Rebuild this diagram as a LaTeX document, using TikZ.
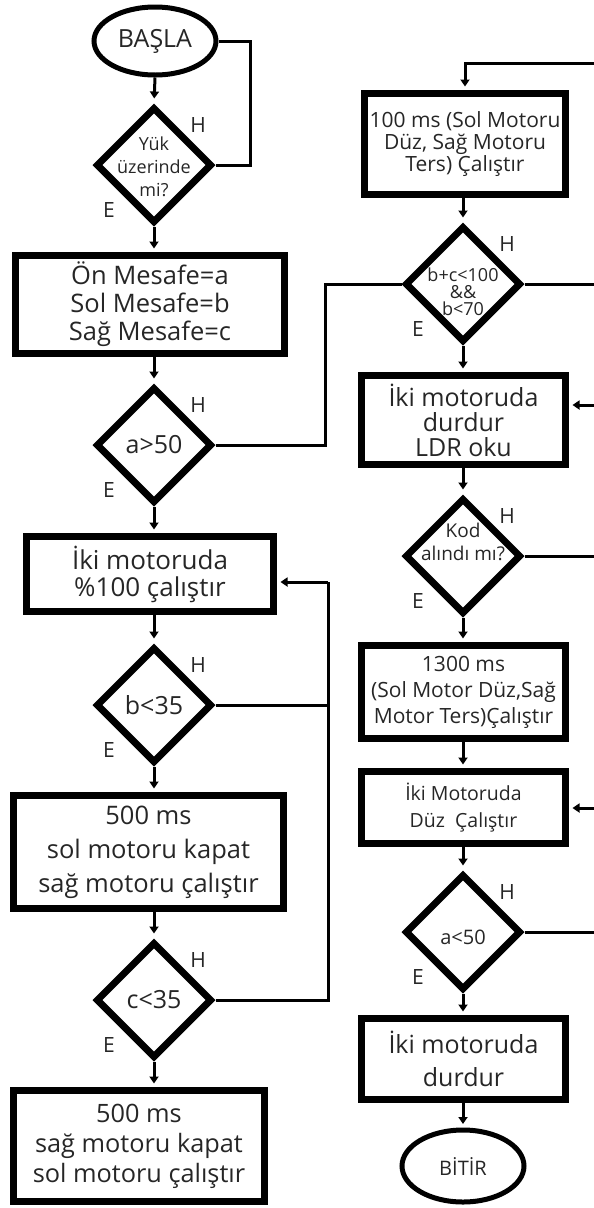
\documentclass[tikz,border=0pt]{standalone}
\usepackage{fontspec}
\setmainfont{Open Sans}
\usetikzlibrary{shapes.geometric,arrows.meta}
\begin{document}
\begin{tikzpicture}[x=1pt,y=-1pt,
  box/.style={draw, line width=7pt, rectangle, inner sep=0pt, align=center, text=black!85},
  dia/.style={draw, line width=7pt, diamond, aspect=1, inner sep=0pt, minimum width=116pt, minimum height=116pt},
  term/.style={draw, line width=5pt, ellipse, inner sep=0pt, align=center, text=black!85},
  txt/.style={inner sep=0pt, align=center, text=black!85},
  lbl/.style={inner sep=0pt, font=\fontsize{21}{21}\selectfont, text=black!85},
  conn/.style={line width=3pt},
  arr/.style={line width=3pt, -{Triangle[length=7pt,width=9pt]}, shorten >=3.5pt},
  arrd/.style={line width=3pt, -{Triangle[length=7pt,width=9pt]}, shorten >=5pt},
]
\useasboundingbox (0,0) rectangle (594,1208);

% ---------- left column ----------
\node[term, minimum width=122pt, minimum height=68pt, font=\fontsize{25}{28}\selectfont] (start) at (155,41) {BAŞLA};

\node[dia] (d1) at (154,165) {};
\node[txt, font=\fontsize{18}{23}\selectfont] (t1) at (154,167) {Yük\\üzerinde\\mi?};

\node[box, minimum width=269pt, minimum height=98pt, font=\fontsize{25.5}{28}\selectfont] (b1) at (150,304.5) {Ön Mesafe=a\\Sol Mesafe=b\\Sağ Mesafe=c};

\node[dia] (d2) at (154,445) {};
\node[txt, font=\fontsize{25}{28}\selectfont] (t2) at (154,445) {a>50};

\node[box, minimum width=247pt, minimum height=75pt, font=\fontsize{26}{27}\selectfont] (b2) at (150,574) {İki motoruda\\\%100 çalıştır};

\node[dia] (d3) at (154,705) {};
\node[txt, font=\fontsize{25}{28}\selectfont] (t3) at (154,705) {b<35};

\node[box, minimum width=270pt, minimum height=113pt, font=\fontsize{25.5}{34}\selectfont] (b3) at (148.5,852) {500 ms\\sol motoru kapat\\sağ motoru çalıştır};

\node[dia] (d4) at (154,1000) {};
\node[txt, font=\fontsize{25}{28}\selectfont] (t4) at (154,1000) {c<35};

\node[box, minimum width=251pt, minimum height=111pt, font=\fontsize{25.3}{30}\selectfont] (b4) at (139,1146) {500 ms\\sağ motoru kapat\\sol motoru çalıştır};

% ---------- right column ----------
\node[box, minimum width=201pt, minimum height=101pt, font=\fontsize{21}{22}\selectfont] (b5) at (465,144) {100 ms (Sol Motoru\\Düz, Sağ Motoru\\Ters) Çalıştır};

\node[dia] (d5) at (463,284) {};
\node[txt, font=\fontsize{18}{17}\selectfont] (t5) at (463,292) {b+c<100\\\&\&\\b<70};

\node[box, minimum width=204pt, minimum height=89pt, font=\fontsize{25}{25}\selectfont] (b6) at (463.5,420) {İki motoruda\\durdur\\LDR oku};

\node[dia] (d6) at (463,556) {};
\node[txt, font=\fontsize{19}{23}\selectfont] (t6) at (463,542) {Kod\\alındı mı?};

\node[box, minimum width=204pt, minimum height=93pt, font=\fontsize{21}{26}\selectfont] (b7) at (463.5,692) {1300 ms\\(Sol Motor Düz,Sağ\\Motor Ters)Çalıştır};

\node[box, minimum width=204pt, minimum height=72pt, font=\fontsize{19.5}{27}\selectfont] (b8) at (463.5,807.5) {İki Motoruda\\Düz\ \ Çalıştır};

\node[dia] (d7) at (463,932) {};
\node[txt, font=\fontsize{20}{22}\selectfont] (t7) at (463,937) {a<50};

\node[box, minimum width=204pt, minimum height=81pt, font=\fontsize{25}{33}\selectfont] (b9) at (463.5,1059) {İki motoruda\\durdur};

\node[term, minimum width=122pt, minimum height=72pt, font=\fontsize{20}{22}\selectfont] (end) at (463,1166) {BİTİR};

% ---------- H / E labels ----------
\foreach \d in {d1,d2,d3,d4,d5,d6,d7}{
  \node[lbl] (\d H) at ([shift={(44,-40)}]\d.center) {H};
  \node[lbl] (\d E) at ([shift={(-45,45)}]\d.center) {E};
}

% ---------- helper coordinates ----------
\coordinate (k1) at (250,165);
\coordinate (k2) at (325,284);
\coordinate (k3) at (328,582);
\coordinate (rx) at (594,0);
\coordinate (e1) at (594,63);
\coordinate (e3) at (594,405);
\coordinate (e5) at (594,808);

% ---------- left connectors ----------
\draw[arrd] (start.south) -- (d1.north);
\draw[conn] (start.east) -| (k1) -- (d1.east);
\draw[arr] (d1.south) -- (d1.south |- b1.north);
\draw[arrd] (b1.south -| d2.north) -- (d2.north);
\draw[conn] (d2.east) -| (k2) -- (d5.west);
\draw[arr] (d2.south) -- (d2.south |- b2.north);
\draw[arrd] (b2.south -| d3.north) -- (d3.north);
\draw[conn] (d3.east) -- (d3.east -| k3);
\draw[conn] (d4.east) -| (k3);
\draw[arr] (k3) -- (k3 -| b2.east);
\draw[arr] (d3.south) -- (d3.south |- b3.north);
\draw[arrd] (b3.south -| d4.north) -- (d4.north);
\draw[arr] (d4.south) -- (d4.south |- b4.north);

% ---------- right connectors ----------
\draw[arr] (e1) -| (b5.north);
\draw[arrd] (b5.south -| d5.north) -- (d5.north);
\draw[conn] (d5.east) -- (d5.east -| rx);
\draw[arr] (d5.south) -- (d5.south |- b6.north);
\draw[arr] (e3) -- (e3 -| b6.east);
\draw[arrd] (b6.south -| d6.north) -- (d6.north);
\draw[conn] (d6.east) -- (d6.east -| rx);
\draw[arr] (d6.south) -- (d6.south |- b7.north);
\draw[arr] (b7.south -| d6.south) -- (b8.north -| d6.south);
\draw[arr] (e5) -- (e5 -| b8.east);
\draw[arrd] (b8.south -| d7.north) -- (d7.north);
\draw[conn] (d7.east) -- (d7.east -| rx);
\draw[arr] (d7.south) -- (d7.south |- b9.north);
\draw[arr] (b9.south -| end.north) -- (end.north);
\end{tikzpicture}
\end{document}
